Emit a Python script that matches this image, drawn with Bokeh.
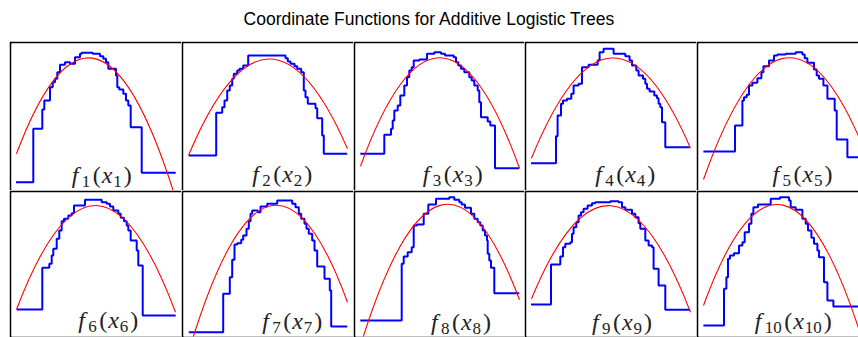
from bokeh.plotting import figure
from bokeh.layouts import column, row
from bokeh.models import Label, Spacer, Range1d
from bokeh.embed import file_html
from bokeh.resources import INLINE

TITLE = "Coordinate Functions for Additive Logistic Trees"

# Blue step functions: breakpoints (last entry = right end) and level held after each breakpoint
f1_x = [6.0, 23.3, 32.3, 34.3, 40.0, 42.7, 45.0, 47.3, 50.0, 55.0, 60.0, 65.0, 70.0, 71.7, 82.7, 90.0, 93.3,
        96.0, 98.3, 106.0, 107.3, 109.3, 113.3, 116.0, 118.3, 120.7, 131.7, 165.7]
f1_y = [8.3, 61.7, 81.0, 90.0, 103.3, 108.3, 111.7, 118.3, 125.7, 128.3, 126.7, 133.3, 136.7, 137.7, 136.7, 134.3,
        131.7, 128.3, 121.7, 115.0, 103.3, 101.0, 96.7, 90.0, 85.0, 63.3, 17.7]

f2_x = [6.8, 34.2, 40.2, 42.5, 45.2, 47.8, 50.2, 51.8, 55.2, 57.5, 61.2, 66.2, 103.5, 105.8, 108.5, 112.5, 115.2,
        119.2, 121.8, 123.5, 125.8, 133.5, 135.2, 140.2, 141.8, 165.2]
f2_y = [35.0, 77.7, 83.3, 90.0, 100.0, 105.0, 111.7, 116.7, 120.0, 121.7, 125.0, 135.0, 132.3, 129.0, 126.7, 124.3,
        121.7, 118.3, 100.0, 93.3, 86.7, 82.3, 72.3, 55.0, 36.7]

f3_x = [6.3, 30.3, 37.0, 38.7, 40.3, 43.7, 46.3, 50.3, 53.0, 55.3, 57.7, 59.7, 65.3, 73.0, 80.3, 87.0, 91.0, 99.7,
        102.0, 104.3, 107.0, 110.3, 115.3, 117.7, 120.3, 123.7, 125.3, 127.0, 133.7, 136.3, 141.0, 165.3]
f3_y = [36.7, 55.7, 61.7, 70.0, 80.0, 85.0, 95.0, 105.0, 113.3, 120.0, 123.3, 130.0, 131.0, 136.7, 138.3, 136.7,
        135.0, 133.3, 128.3, 125.0, 121.7, 118.3, 113.3, 110.0, 105.0, 100.0, 88.3, 73.3, 69.0, 65.0, 22.3]

f4_x = [6.0, 31.0, 32.6, 36.0, 38.0, 42.0, 46.3, 48.6, 53.6, 57.0, 63.6, 72.6, 74.6, 78.6, 88.6, 100.3, 104.6,
        107.0, 111.3, 113.6, 118.0, 120.3, 122.0, 124.6, 129.3, 132.0, 133.6, 135.3, 137.0, 140.3, 164.6]
f4_y = [27.3, 54.3, 75.0, 86.7, 90.0, 91.7, 96.7, 105.0, 106.7, 123.3, 125.7, 130.0, 138.3, 141.7, 136.7, 134.3,
        130.0, 125.0, 120.0, 115.0, 111.7, 106.7, 101.7, 99.0, 95.0, 92.3, 86.7, 83.3, 68.3, 43.3]

f5_x = [6.4, 38.0, 45.4, 47.0, 49.7, 52.0, 55.4, 60.4, 64.4, 66.4, 72.0, 77.0, 80.4, 88.7, 98.7, 105.4, 107.7,
        110.4, 117.0, 119.7, 122.0, 126.4, 130.4, 137.7, 139.7, 150.4, 165.5]
f5_y = [39.0, 65.0, 90.0, 93.3, 95.7, 105.0, 107.7, 112.3, 118.3, 124.3, 130.0, 135.0, 136.0, 136.7, 138.3, 136.0,
        132.3, 127.7, 121.0, 115.0, 111.7, 105.0, 91.7, 80.0, 51.0, 33.3]

f6_x = [6.7, 32.3, 39.3, 41.7, 43.3, 46.7, 49.3, 51.7, 54.0, 58.3, 61.7, 64.0, 75.0, 91.7, 96.7, 100.0, 103.3,
        108.3, 110.7, 114.0, 116.7, 118.3, 120.7, 126.7, 128.3, 132.7, 165.7]
f6_y = [28.0, 69.7, 73.7, 82.0, 88.7, 98.7, 107.0, 116.3, 118.7, 122.0, 124.3, 132.0, 137.7, 135.3, 133.7, 131.0,
        127.0, 123.7, 119.7, 116.3, 112.0, 107.0, 97.0, 87.0, 72.0, 22.0]

f7_x = [6.8, 41.2, 47.8, 50.2, 52.5, 55.2, 59.2, 61.2, 64.5, 66.8, 68.5, 70.2, 75.8, 78.5, 85.2, 95.2, 110.2,
        113.5, 116.8, 119.2, 122.5, 124.5, 126.8, 130.2, 132.5, 135.2, 142.5, 147.8, 149.2, 165.2]
f7_y = [5.3, 43.7, 60.3, 77.7, 93.0, 94.3, 97.7, 102.0, 108.7, 116.3, 123.7, 127.0, 125.3, 131.0, 133.7, 137.0,
        133.7, 130.3, 123.7, 118.7, 113.7, 108.7, 103.7, 97.0, 87.0, 71.0, 58.7, 47.0, 11.0]

f8_x = [6.3, 47.7, 49.7, 53.7, 57.7, 59.7, 63.0, 69.7, 74.3, 82.0, 95.3, 100.3, 105.3, 107.7, 111.0, 117.0, 120.3,
        123.7, 126.3, 128.7, 131.0, 133.0, 133.7, 135.3, 137.0, 140.3, 165.3]
f8_y = [17.0, 73.7, 81.0, 85.3, 90.3, 112.0, 113.0, 123.7, 133.0, 138.7, 140.3, 137.7, 135.3, 133.0, 129.7, 123.7,
        118.7, 115.3, 112.0, 107.0, 102.0, 97.0, 83.7, 77.0, 69.7, 44.3]

f9_x = [6.0, 26.0, 35.3, 38.0, 40.3, 45.3, 47.0, 48.6, 51.3, 53.6, 56.0, 58.6, 62.6, 67.0, 70.3, 85.3, 93.6, 97.0,
        100.3, 107.0, 110.3, 113.6, 115.3, 120.3, 123.6, 127.0, 128.6, 133.6, 140.3, 165.3]
f9_y = [33.0, 73.0, 81.0, 90.3, 93.7, 95.3, 103.7, 110.3, 115.3, 122.0, 125.3, 128.7, 132.0, 134.3, 135.3, 136.3,
        135.3, 130.3, 127.7, 123.7, 120.3, 114.3, 108.7, 97.0, 92.0, 90.3, 68.7, 52.0, 27.7]

f10_x = [6.4, 27.0, 29.4, 31.0, 33.0, 37.0, 42.0, 45.4, 47.7, 52.0, 54.4, 56.4, 61.0, 73.7, 83.0, 92.0, 93.7, 98.7,
         105.4, 108.7, 111.0, 114.4, 117.0, 120.4, 122.0, 127.0, 130.4, 136.4, 165.5]
f10_y = [12.0, 48.7, 60.3, 78.7, 82.0, 84.3, 92.0, 95.3, 105.3, 113.7, 123.7, 130.3, 133.0, 138.7, 140.3, 137.0,
         130.3, 127.7, 118.7, 113.7, 107.0, 99.7, 93.7, 87.0, 80.3, 55.3, 37.0, 31.0]

# Red quadratic fits: value at left end, centre and right end of the x span
RED_X0 = 6.5
RED_X1 = 165.5
red_left = [36.7, 35.0, 24.3, 32.3, 11.0, 28.0, -15.0, -8.0, 38.7, 32.0]
red_mid = [131.6, 131.5, 132.7, 132.5, 132.1, 132.0, 131.0, 132.1, 131.8, 132.4]
red_right = [-7.6, 41.7, 22.3, 42.3, 45.0, 25.3, 35.3, 37.7, 25.3, -3.0]

# panel label anchors (left edge, vertical centre)
label_x = [61.7, 70.2, 68.7, 70.3, 75.4, 68.3, 80.2, 77.0, 67.0, 57.7]
label_y = [15.8, 17.0, 17.0, 16.3, 16.3, 17.8, 16.2, 15.6, 16.0, 16.2]

steps_x = [f1_x, f2_x, f3_x, f4_x, f5_x, f6_x, f7_x, f8_x, f9_x, f10_x]
steps_y = [f1_y, f2_y, f3_y, f4_y, f5_y, f6_y, f7_y, f8_y, f9_y, f10_y]

BLUE = "#0000ff"
RED = "#ff0000"
SERIF = "Liberation Serif"
LABEL_COLOR = "#222222"

COL_W = [172, 172, 171, 172, 162]
ROW_H = [149, 147]


def add_label(p, i):
    n = str(i + 1)
    sw = 8.5 * len(n)
    x0, y0 = label_x[i], label_y[i]
    pieces = [
        ("f", 0, 0, "24px", "italic"),
        (n, 10, -6.5, "17px", "normal"),
        ("(", 10 + sw + 2.5, 0, "24px", "normal"),
        ("x", 10 + sw + 11.5, 0, "24px", "italic"),
        (n, 10 + sw + 23, -6.5, "17px", "normal"),
        (")", 10 + 2 * sw + 25, 0, "24px", "normal"),
    ]
    for txt, dx, dy, size, style in pieces:
        p.add_layout(Label(x=x0, y=y0, x_offset=dx, y_offset=dy, text=txt, text_font=SERIF,
                           text_font_size=size, text_font_style=style, text_color=LABEL_COLOR,
                           text_baseline="middle", text_align="left"))


def make_panel(i):
    c = i % 5
    r = i // 5
    w = COL_W[c]
    h = ROW_H[r]
    mb = dict(min_border_left=2, min_border_right=0, min_border_top=2,
              min_border_bottom=1 if r == 1 else 0)
    fw = w - mb["min_border_left"]
    fh = h - mb["min_border_top"] - mb["min_border_bottom"]
    xr = Range1d(1.5, 1.5 + fw)
    yr = Range1d(0, fh) if r == 0 else Range1d(1, 1 + fh)
    p = figure(width=w, height=h, x_range=xr, y_range=yr, output_backend="svg",
               toolbar_location=None, tools="", x_axis_location=None, y_axis_location=None,
               border_fill_color="black", background_fill_color="white",
               outline_line_color=None, **mb)
    p.xgrid.visible = False
    p.ygrid.visible = False
    xs = steps_x[i]
    ys = steps_y[i] + [steps_y[i][-1]]
    p.step(x=xs, y=ys, mode="after", line_color=BLUE, line_width=2)
    yl, ym, yr_ = red_left[i], red_mid[i], red_right[i]
    p.quadratic(x0=[RED_X0], y0=[yl], x1=[RED_X1], y1=[yr_],
                cx=[(RED_X0 + RED_X1) / 2], cy=[2 * ym - (yl + yr_) / 2],
                line_color=RED, line_width=1.1)
    add_label(p, i)
    return p


panels = [make_panel(i) for i in range(10)]

tf = figure(width=858, height=41, x_range=Range1d(0, 858), y_range=Range1d(0, 41),
            output_backend="svg", toolbar_location=None, tools="",
            x_axis_location=None, y_axis_location=None, min_border=0,
            outline_line_color=None, border_fill_color="white", background_fill_color="white")
tf.xgrid.visible = False
tf.ygrid.visible = False
tf.add_layout(Label(x=429, y=23, x_units="screen", y_units="screen", text=TITLE,
                    text_font="Liberation Sans", text_font_size="17.5px", text_color="black",
                    text_align="center", text_baseline="middle"))

layout = column(
    tf,
    row(Spacer(width=9, height=ROW_H[0]), *panels[:5]),
    row(Spacer(width=9, height=ROW_H[1]), *panels[5:]),
)

open("out.html", "w").write(file_html(layout, INLINE))
